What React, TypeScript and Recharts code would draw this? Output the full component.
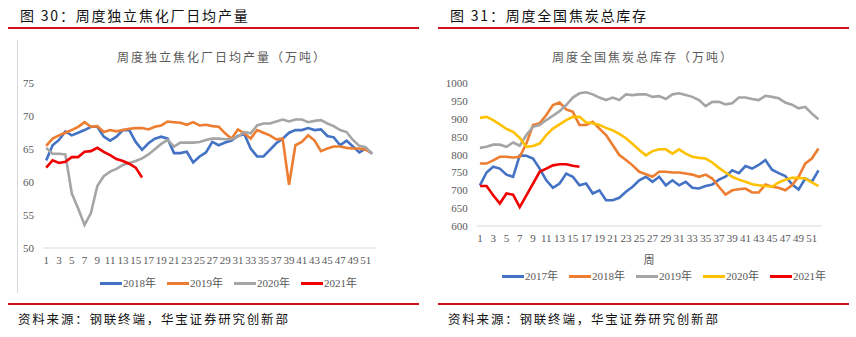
import React from 'react';
import { LineChart, Line, XAxis, YAxis } from 'recharts';

// week numbers on both x axes
const weeks = [
  1, 2, 3, 4, 5, 6, 7, 8, 9, 10, 11, 12, 13, 14, 15, 16, 17, 18, 19, 20, 21, 22, 23, 24, 25, 26,
  27, 28, 29, 30, 31, 32, 33, 34, 35, 36, 37, 38, 39, 40, 41, 42, 43, 44, 45, 46, 47, 48, 49, 50, 51, 52,
];

// Fig 30: daily output of independent coking plants (10k t)
const output2018 = [
  63.3, 65.6, 66.4, 67.7, 67.1, 67.5, 67.9, 68.4, 68.4, 66.9, 66.3, 66.9, 67.9, 67.9, 66.1, 64.9, 65.9,
  66.6, 66.9, 66.6, 64.4, 64.4, 64.6, 63.0, 63.9, 64.5, 66.1, 65.6, 66.0, 66.3, 67.0, 67.3, 65.1, 63.9,
  63.9, 64.9, 65.9, 66.6, 67.5, 67.9, 67.9, 68.2, 67.9, 68.0, 67.0, 66.8, 65.6, 66.3, 65.4, 64.5, 65.1, 64.3,
];
const output2019 = [
  65.5, 66.6, 67.1, 67.5, 67.9, 68.4, 69.1, 68.4, 68.5, 67.6, 67.9, 67.7, 67.9, 68.1, 68.2, 68.2, 68.0,
  68.4, 68.6, 69.2, 69.1, 69.0, 68.7, 69.1, 68.6, 68.7, 68.5, 68.4, 67.4, 66.6, 68.0, 67.4, 66.6, 67.9,
  67.5, 67.1, 66.5, 66.6, 59.6, 65.6, 66.1, 67.1, 66.3, 64.7, 65.1, 65.4, 65.4, 65.2, 65.1, 65.1, 64.9, 64.4,
];
const output2020 = [
  65.2, 64.3, 64.3, 64.2, 58.3, 56.0, 53.5, 55.3, 59.4, 60.9, 61.6, 62.0, 62.6, 62.9, 63.2, 63.6, 64.2,
  65.0, 65.8, 66.4, 65.4, 66.0, 66.0, 66.0, 66.1, 66.4, 66.6, 66.6, 66.5, 66.5, 66.9, 67.6, 67.4, 68.6,
  68.9, 68.9, 69.2, 69.5, 69.2, 69.5, 69.5, 69.1, 69.3, 69.4, 68.9, 68.5, 67.9, 67.6, 66.4, 65.5, 65.3, 64.3,
];
const output2021 = [62.2, 63.3, 62.9, 63.1, 63.8, 63.8, 64.6, 64.7, 65.2, 64.6, 64.1, 63.5, 63.2, 62.8, 62.2, 60.7];
const outputTicks = [50, 55, 60, 65, 70, 75];

// Fig 31: national coke inventory (10k t)
const stock2017 = [
  714, 750, 766, 761, 744, 738, 798, 797, 789, 761, 728, 707, 719, 747, 738, 714, 719, 691, 700, 672, 672,
  679, 696, 710, 728, 738, 724, 738, 714, 728, 714, 724, 707, 705, 712, 716, 730, 738, 756, 748, 768, 761,
  771, 785, 758, 748, 740, 717, 702, 733, 724, 756,
];
const stock2018 = [
  775, 775, 784, 794, 794, 792, 794, 831, 883, 888, 911, 939, 946, 927, 920, 883, 883, 892, 873, 855, 827,
  799, 785, 770, 752, 745, 738, 752, 752, 750, 750, 747, 744, 738, 744, 733, 710, 688, 700, 703, 705, 694,
  694, 716, 710, 707, 700, 714, 738, 775, 789, 817,
];
const stock2019 = [
  819, 822, 828, 828, 822, 834, 825, 855, 878, 883, 897, 909, 922, 939, 960, 972, 975, 969, 960, 953, 960,
  953, 969, 967, 969, 969, 962, 964, 956, 969, 972, 967, 962, 953, 936, 948, 948, 941, 944, 960, 960, 956,
  953, 965, 962, 958, 946, 940, 930, 934, 915, 899,
];
const stock2020 = [
  903, 906, 897, 885, 872, 864, 847, 822, 824, 831, 855, 873, 885, 897, 906, 906, 890, 888, 883, 875, 868,
  858, 846, 830, 813, 798, 810, 815, 815, 803, 815, 803, 794, 791, 789, 778, 763, 750, 738, 730, 724, 717,
  714, 712, 710, 722, 730, 735, 735, 733, 722, 712,
];
const stock2021 = [712, 712, 686, 663, 691, 688, 653, 686, 719, 752, 761, 770, 773, 773, 769, 766];
const stockTicks = [600, 650, 700, 750, 800, 850, 900, 950, 1000];

const BLUE = '#4472C4';
const ORANGE = '#ED7D31';
const GRAY = '#A5A5A5';
const YELLOW = '#FFC000';
const RED = '#F00000';
const TEXT = '#595959';
const CJK = '"Noto Sans CJK SC", "Noto Sans", sans-serif';
const NUM = '"Liberation Serif", "Noto Sans CJK SC", serif';

const outputSeries = [
  { key: 's2018', name: '2018年', values: output2018, color: BLUE },
  { key: 's2019', name: '2019年', values: output2019, color: ORANGE },
  { key: 's2020', name: '2020年', values: output2020, color: GRAY },
  { key: 's2021', name: '2021年', values: output2021, color: RED },
];
const stockSeries = [
  { key: 's2017', name: '2017年', values: stock2017, color: BLUE },
  { key: 's2018', name: '2018年', values: stock2018, color: ORANGE },
  { key: 's2019', name: '2019年', values: stock2019, color: GRAY },
  { key: 's2020', name: '2020年', values: stock2020, color: YELLOW },
  { key: 's2021', name: '2021年', values: stock2021, color: RED },
];

type Series = { key: string; name: string; values: number[]; color: string };

const buildRows = (series: Series[]) =>
  weeks.map((w, i) => {
    const row: any = { week: String(w) };
    series.forEach((s) => {
      row[s.key] = s.values[i] ?? null;
    });
    return row;
  });

const Text = ({ x, y, size, children, center, spacing, color, family }: any) => (
  <div
    style={{
      position: 'absolute',
      left: x,
      top: y - size / 2,
      fontSize: size,
      lineHeight: 1,
      whiteSpace: 'nowrap',
      letterSpacing: spacing ?? 0,
      color: color ?? '#111',
      fontFamily: family ?? CJK,
      transform: center ? 'translateX(-50%)' : undefined,
    }}
  >
    {children}
  </div>
);

const RedRule = ({ x, y }: { x: number; y: number }) => (
  <div style={{ position: 'absolute', left: x, top: y - 1, width: 411, height: 2, background: '#D0101B' }} />
);

const SeriesLegend = ({ series, x, y }: { series: Series[]; x: number; y: number }) => (
  <div style={{ position: 'absolute', left: x, top: y - 7, height: 14, display: 'flex', alignItems: 'center', gap: 11 }}>
    {series.map((s) => (
      <div key={s.key} style={{ display: 'flex', alignItems: 'center' }}>
        <span style={{ width: 22, height: 3, background: s.color, marginRight: 1 }} />
        <span style={{ fontSize: 11, color: TEXT, fontFamily: NUM, lineHeight: 1 }}>{s.name}</span>
      </div>
    ))}
  </div>
);

function YearChart({
  series,
  domain,
  ticks,
  width,
  height,
  yWidth,
  top,
  right,
}: {
  series: Series[];
  domain: [number, number];
  ticks: number[];
  width: number;
  height: number;
  yWidth: number;
  top: number;
  right: number;
}) {
  const rows = buildRows(series);
  return (
    <LineChart width={width} height={height} data={rows} margin={{ top, right, bottom: 0, left: 0 }}>
      <XAxis
        dataKey="week"
        interval={1}
        height={22}
        padding={{ left: 3.2, right: 3.2 }}
        tickLine={false}
        axisLine={{ stroke: '#D9D9D9' }}
        tick={{ fontSize: 11, fill: TEXT, fontFamily: NUM }}
      />
      <YAxis
        type="number"
        domain={domain}
        ticks={ticks}
        width={yWidth}
        axisLine={false}
        tickLine={false}
        tickMargin={3}
        tick={{ fontSize: 11, fill: TEXT, fontFamily: NUM }}
      />
      {series.map((s) => (
        <Line
          key={s.key}
          type="linear"
          dataKey={s.key}
          name={s.name}
          stroke={s.color}
          strokeWidth={2.6}
          dot={false}
          activeDot={false}
          isAnimationActive={false}
        />
      ))}
    </LineChart>
  );
}

export default function App() {
  return (
    <div style={{ position: 'absolute', left: 0, top: 0, width: 856, height: 337, background: '#fff', overflow: 'hidden' }}>
      {/* left panel */}
      <Text x={20} y={15} size={14} spacing={1.8}>图 30：周度独立焦化厂日均产量</Text>
      <RedRule x={8} y={28} />
      <div style={{ position: 'absolute', left: 17, top: 40, width: 1, height: 253, background: '#D9D9D9' }} />
      <Text x={222} y={57} size={12} spacing={2} color={TEXT} center>
        周度独立焦化厂日均产量（万吨）
      </Text>
      <div style={{ position: 'absolute', left: 0, top: 0 }}>
        <YearChart
          series={outputSeries}
          domain={[50, 75]}
          ticks={outputTicks}
          width={430}
          height={270}
          yWidth={43}
          top={83.3}
          right={54.7}
        />
      </div>
      <SeriesLegend series={outputSeries} x={100} y={283} />
      <RedRule x={8} y={304} />
      <Text x={18} y={319} size={12.5} spacing={1.8}>资料来源：钢联终端，华宝证券研究创新部</Text>

      {/* right panel */}
      <Text x={450} y={15} size={14} spacing={1.8}>图 31：周度全国焦炭总库存</Text>
      <RedRule x={438} y={28} />
      <Text x={643} y={57} size={12} spacing={2} color={TEXT} center>
        周度全国焦炭总库存（万吨）
      </Text>
      <div style={{ position: 'absolute', left: 430, top: 0 }}>
        <YearChart
          series={stockSeries}
          domain={[600, 1000]}
          ticks={stockTicks}
          width={426}
          height={248}
          yWidth={46.7}
          top={83.3}
          right={34.3}
        />
      </div>
      <Text x={649} y={259} size={11} color={TEXT} center>周</Text>
      <SeriesLegend series={stockSeries} x={502} y={276} />
      <RedRule x={438} y={304} />
      <Text x={448} y={319} size={12.5} spacing={1.8}>资料来源：钢联终端，华宝证券研究创新部</Text>
    </div>
  );
}
